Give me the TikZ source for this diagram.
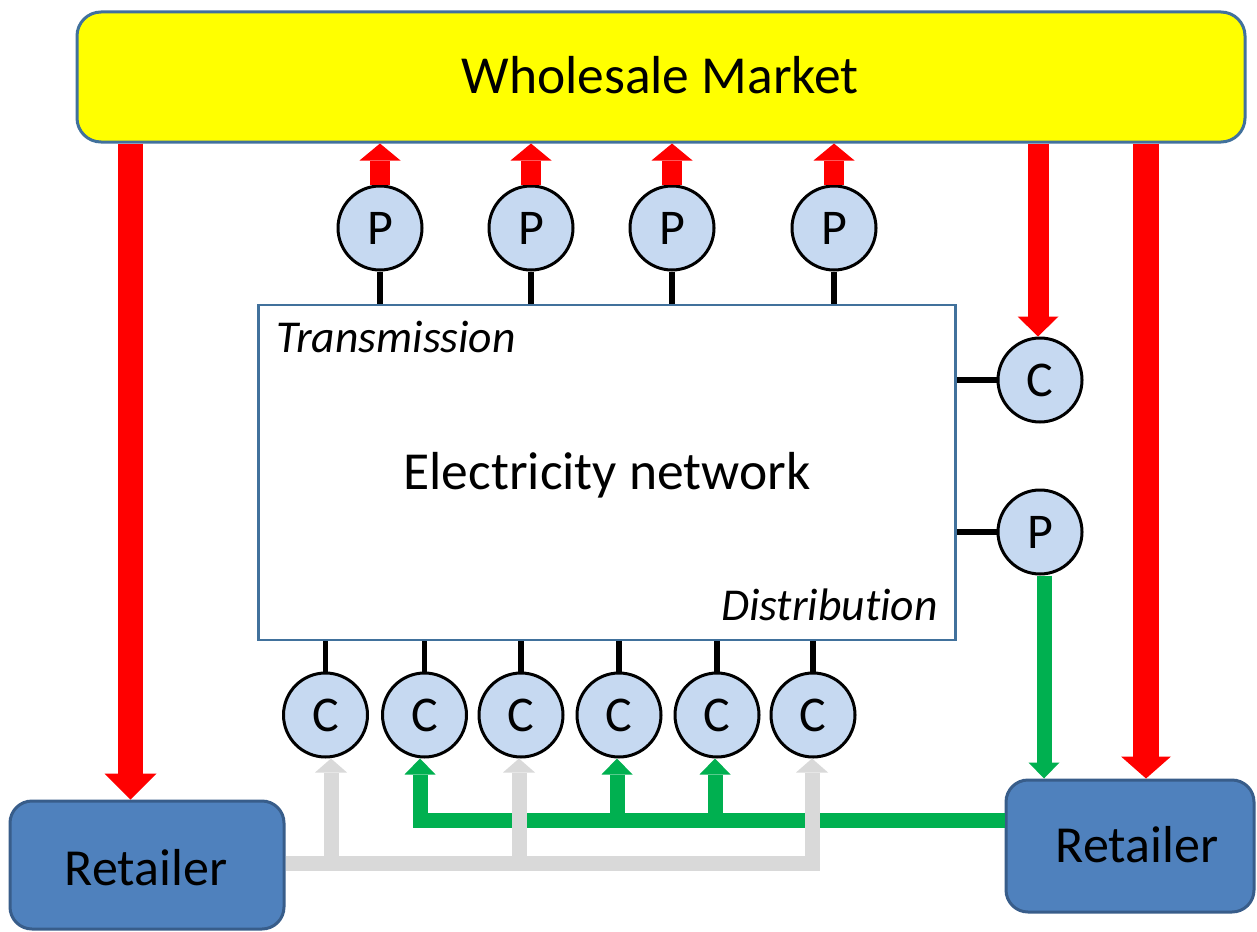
\documentclass[tikz,border=0pt]{standalone}
\usepackage{fontspec}
\setmainfont{Carlito}[Ligatures=NoCommon]
\usetikzlibrary{arrows.meta}
\definecolor{wmyellow}{HTML}{FFFF00}
\definecolor{bordblue}{HTML}{41719C}
\definecolor{retfill}{HTML}{4F81BD}
\definecolor{retborder}{HTML}{385D8A}
\definecolor{circfill}{HTML}{C6D9F1}
\definecolor{arrred}{HTML}{FF0000}
\definecolor{arrgreen}{HTML}{00B050}
\definecolor{arrgray}{HTML}{D9D9D9}
\tikzset{
  wmbox/.style={rectangle, rounded corners=24pt, draw=bordblue, line width=3pt, fill=wmyellow, minimum width=1168pt, minimum height=130pt, inner sep=0pt},
  netbox/.style={rectangle, draw=bordblue, line width=2.5pt, fill=white, minimum width=697pt, minimum height=335pt, inner sep=0pt},
  retbox/.style={rectangle, rounded corners=22pt, draw=retborder, line width=3pt, fill=retfill, inner sep=0pt},
  agent/.style={circle, draw=black, line width=3pt, fill=circfill, minimum size=84pt, inner sep=0pt, font=\fontsize{50}{60}\selectfont},
  bigtext/.style={font=\fontsize{53.5}{62}\selectfont, inner sep=0pt, anchor=base},
  rettext/.style={font=\fontsize{52}{62}\selectfont, inner sep=0pt, anchor=base},
  ittext/.style={font=\itshape\fontsize{45.6}{52}\selectfont, inner sep=0pt},
  link/.style={draw=black, line width=5.5pt},
  redup/.style={draw=arrred, line width=20pt, -{Triangle[length=17pt,width=41pt,line width=0pt]}},
  redmid/.style={draw=arrred, line width=21pt, -{Triangle[length=20pt,width=41pt,line width=0pt]}},
  redbigl/.style={draw=arrred, line width=25pt, -{Triangle[length=26pt,width=52pt,line width=0pt]}},
  redbigr/.style={draw=arrred, line width=26pt, -{Triangle[length=22pt,width=50pt,line width=0pt]}},
  greenflow/.style={draw=arrgreen, line width=15pt, line join=miter, -{Triangle[length=16pt,width=31pt,line width=0pt]}},
  grayflow/.style={draw=arrgray, line width=15pt, line join=miter, -{Triangle[length=14pt,width=32pt,line width=0pt]}}
}
\begin{document}
\begin{tikzpicture}[x=1pt,y=-1pt]
\useasboundingbox (0,0) rectangle (1257,931);
\fill[white] (0,0) rectangle (1257,931);

% boxes
\node[wmbox] (wm) at (661,77) {};
\node[bigtext] (wmlabel) at (660,94) {Wholesale Market};
\node[netbox] (net) at (607,472.5) {};
\node[bigtext] (netlabel) at (607,489) {Electricity network};
\node[ittext, anchor=base west] (trans) at (276,352) {Transmission};
\node[ittext, anchor=base east] (distr) at (938,620) {Distribution};
\node[retbox, minimum width=274pt, minimum height=128pt] (rl) at (147,865) {};
\node[rettext] (rllabel) at (146,885) {Retailer};
\node[retbox, minimum width=248pt, minimum height=132pt] (rr) at (1130,846) {};
\node[rettext] (rrlabel) at (1137,862) {Retailer};

% agents
\node[agent] (p1) at (380,228) {P};
\node[agent] (p2) at (531,228) {P};
\node[agent] (p3) at (672,228) {P};
\node[agent] (p4) at (834,228) {P};
\node[agent] (cr) at (1040,380) {C};
\node[agent] (pr) at (1040,532) {P};
\node[agent] (c1) at (325.5,715) {C};
\node[agent] (c2) at (424.5,715) {C};
\node[agent] (c3) at (521,715) {C};
\node[agent] (c4) at (619,715) {C};
\node[agent] (c5) at (717,715) {C};
\node[agent] (c6) at (813,715) {C};

% network links
\foreach \n in {p1,p2,p3,p4} \draw[link] (\n.south) -- (\n.south |- net.north);
\foreach \n in {c1,c2,c3,c4,c5,c6} \draw[link] (\n.north) -- (\n.north |- net.south);
\draw[link] (cr.west) -- (cr.west -| net.east);
\draw[link] (pr.west) -- (pr.west -| net.east);

% red flows
\foreach \n in {p1,p2,p3,p4} \draw[redup] (\n.north) -- (\n.north |- wm.south);
\coordinate (crx) at (1038,0);
\draw[redmid] (crx |- wm.south) -- (crx |- cr.north);
\coordinate (lrx) at (130.5,0);
\draw[redbigl] (lrx |- wm.south) -- (lrx |- rl.north);
\coordinate (rrx) at (1146,0);
\draw[redbigr] (rrx |- wm.south) -- (rrx |- rr.north);

% green flows
\coordinate (gx) at (1044,0);
\draw[greenflow] (gx |- pr.south) -- (gx |- rr.north);
\coordinate (gcorner) at (420,820.5);
\coordinate (g4) at (617,820.5);
\coordinate (g5) at (715,820.5);
\draw[greenflow] (rr.west |- gcorner) -- (gcorner) -- (gcorner |- c2.south);
\draw[greenflow] (g4) -- (g4 |- c4.south);
\draw[greenflow] (g5) -- (g5 |- c5.south);

% gray flows
\coordinate (k6) at (812,863.5);
\coordinate (k1) at (331,863.5);
\coordinate (k3) at (519,863.5);
\draw[grayflow] (rl.east |- k6) -- (k6) -- (k6 |- c6.south);
\draw[grayflow] (k1) -- (k1 |- c1.south);
\draw[grayflow] (k3) -- (k3 |- c3.south);
\end{tikzpicture}
\end{document}
